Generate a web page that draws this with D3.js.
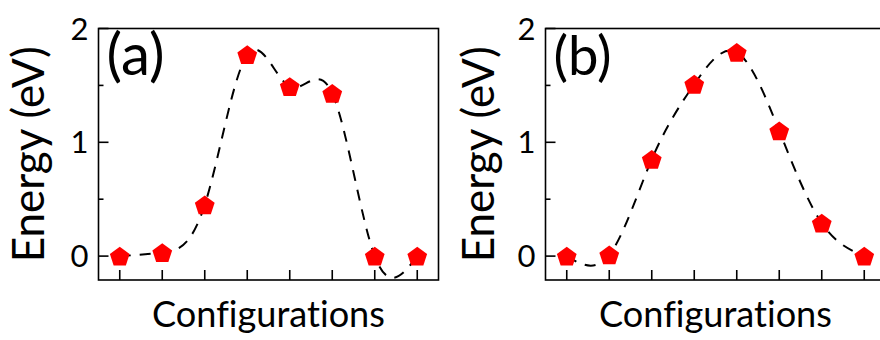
<!DOCTYPE html>
<html><head><meta charset="utf-8">
<script src="https://cdn.jsdelivr.net/npm/d3@7"></script>
<style>html,body{margin:0;padding:0;background:#fff;}svg{display:block;}text{font-variant-ligatures:none;font-feature-settings:"liga" 0,"clig" 0;}</style>
</head><body>
<svg id="chart" width="880" height="340"></svg>
<script>
const configs = [1, 2, 3, 4, 5, 6, 7, 8];
const energyA = [0.0, 0.03, 0.45, 1.77, 1.49, 1.43, 0.0, 0.0];
const energyB = [0.0, 0.01, 0.85, 1.51, 1.79, 1.10, 0.29, 0.0];
const yTicks = [0, 1, 2];
const yMinorTicks = [0.5, 1.5];
const panelLabels = ["(a)", "(b)"];
const xTitle = "Configurations";
const yTitle = "Energy (eV)";

(function () {
const FONT = "Lato, 'Open Sans', sans-serif";
const svg = d3.select("#chart");

const pentagon = {
  draw(ctx, size) {
    const R = Math.sqrt(size);
    for (let i = 0; i < 5; i++) {
      const a = -Math.PI / 2 + i * 2 * Math.PI / 5;
      const px = R * Math.cos(a), py = R * Math.sin(a);
      if (i === 0) ctx.moveTo(px, py); else ctx.lineTo(px, py);
    }
    ctx.closePath();
  }
};

function fitText(sel, targetW) {
  const n = sel.node();
  const w = n.getComputedTextLength();
  const fs = parseFloat(sel.attr("font-size"));
  if (w > 0) sel.attr("font-size", fs * targetW / w);
}

const panels = [
  {data: energyA, left: 98.5, label: panelLabels[0], yTitleX: 44, id: "a"},
  {data: energyB, left: 545.5, label: panelLabels[1], yTitleX: 494, id: "b"}
];
const boxW = 340, boxTop = 28.5, boxBottom = 280;

panels.forEach(p => {
  const x = d3.scaleLinear().domain([0.5, 8.5]).range([p.left, p.left + boxW]);
  const y = d3.scaleLinear().domain([-0.21, 2]).range([boxBottom, boxTop]);
  const g = svg.append("g");

  g.append("clipPath").attr("id", "clip" + p.id)
    .append("rect").attr("x", p.left).attr("y", boxTop).attr("width", boxW).attr("height", boxBottom - boxTop);

  g.append("rect").attr("x", p.left).attr("y", boxTop).attr("width", boxW).attr("height", boxBottom - boxTop)
    .attr("fill", "none").attr("stroke", "#000").attr("stroke-width", 1.6);

  g.selectAll(".xt").data(configs).join("line")
    .attr("x1", d => x(d)).attr("x2", d => x(d))
    .attr("y1", boxBottom).attr("y2", boxBottom - 10)
    .attr("stroke", "#000").attr("stroke-width", 1.6);

  g.selectAll(".yt").data(yTicks).join("line")
    .attr("x1", p.left).attr("x2", p.left + 10)
    .attr("y1", d => y(d)).attr("y2", d => y(d))
    .attr("stroke", "#000").attr("stroke-width", 1.6);
  g.selectAll(".ymt").data(yMinorTicks).join("line")
    .attr("x1", p.left).attr("x2", p.left + 5)
    .attr("y1", d => y(d)).attr("y2", d => y(d))
    .attr("stroke", "#000").attr("stroke-width", 1.6);

  g.selectAll(".yl").data(yTicks).join("text")
    .attr("x", p.left - 10).attr("y", d => y(d))
    .attr("dy", "0.36em").attr("text-anchor", "end")
    .attr("font-family", FONT).attr("font-size", 31)
    .text(d => d);

  const line = d3.line().x((d, i) => x(configs[i])).y(d => y(d)).curve(d3.curveNatural);
  g.append("path").attr("d", line(p.data))
    .attr("clip-path", `url(#clip${p.id})`)
    .attr("fill", "none").attr("stroke", "#000").attr("stroke-width", 2)
    .attr("stroke-dasharray", "11,9");

  g.selectAll(".pt").data(p.data).join("path")
    .attr("transform", (d, i) => `translate(${x(configs[i])},${y(d) + 1})`)
    .attr("d", d3.symbol().type(pentagon).size(108))
    .attr("fill", "#ff0000");

  const pl = g.append("text").attr("x", p.left + 8).attr("y", 75)
    .attr("font-family", FONT).attr("font-size", 44).text(p.label);
  fitText(pl, 58);

  const xt = g.append("text").attr("x", p.left + boxW / 2).attr("y", 327)
    .attr("text-anchor", "middle").attr("font-family", FONT).attr("font-size", 34).text(xTitle);
  fitText(xt, 233);

  const yt = g.append("text")
    .attr("transform", `translate(${p.yTitleX},${(boxTop + boxBottom) / 2}) rotate(-90)`)
    .attr("text-anchor", "middle").attr("font-family", FONT).attr("font-size", 34).text(yTitle);
  fitText(yt, 216);
});
})();
</script>
</body></html>
